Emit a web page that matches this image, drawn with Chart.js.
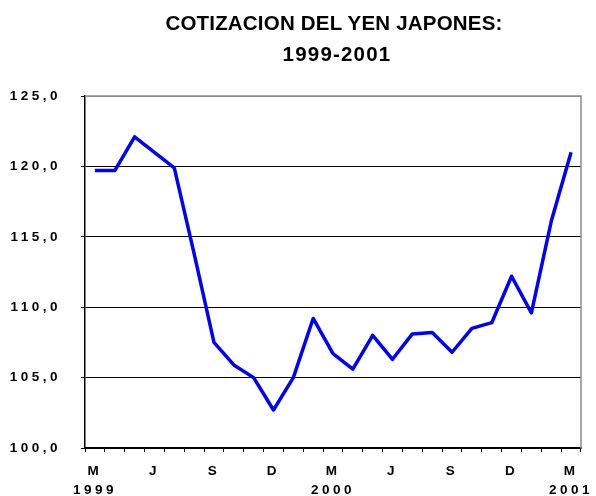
<!DOCTYPE html>
<html>
<head>
<meta charset="utf-8">
<title>Cotización del yen japonés 1999-2001</title>
<script src="https://cdn.jsdelivr.net/npm/chart.js"></script>
<style>
    body { margin: 0; background: #fff; }
    #wrap { position: relative; width: 596px; height: 496px; }
    #chart { position: absolute; left: 0; top: 0; }
    .title {
        position: absolute; left: 86px; width: 496px; text-align: center;
        font-family: "Liberation Sans", Arial, sans-serif; font-weight: bold;
        font-size: 20.5px; color: #000; white-space: nowrap;
    }
</style>
</head>
<body>
<div id="wrap">
    <canvas id="chart" width="596" height="496"></canvas>
    <div class="title" style="top:11px;letter-spacing:0.2px;">COTIZACION DEL YEN JAPONES:</div>
    <div class="title" style="top:42px;left:89px;letter-spacing:1.2px;">1999-2001</div>
</div>
<script>
// Monthly initials, March 1999 to March 2001
const months = ['M', 'A', 'M', 'J', 'J', 'A', 'S', 'O', 'N', 'D', 'E', 'F',
                'M', 'A', 'M', 'J', 'J', 'A', 'S', 'O', 'N', 'D', 'E', 'F', 'M'];
// Yen per dollar, monthly
const yenValues = [119.7, 119.7, 122.1, 121.0, 119.9, 113.8, 107.5, 105.9, 105.0, 102.7,
                   105.0, 109.2, 106.7, 105.6, 108.0, 106.3, 108.1, 108.2, 106.8, 108.5,
                   108.9, 112.2, 109.6, 116.1, 121.0];
// Year shown under the March label
const yearIndex = [0, 12, 24];
const yearLabels = ['1999', '2000', '2001'];
const yTicks = { min: 100, max: 125, step: 5 };

// tick text in this chart is drawn with wide tracking
const spacedText = {
    id: 'spacedText',
    beforeLayout(chart) { chart.ctx.letterSpacing = '3.5px'; },
    beforeDraw(chart) { chart.ctx.letterSpacing = '3.5px'; }
};

// grey frame on the top and right edges of the plot
const plotFrame = {
    id: 'plotFrame',
    beforeDatasetsDraw(chart) {
        const { ctx, chartArea: a } = chart;
        ctx.save();
        ctx.strokeStyle = '#8c8c8c';
        ctx.lineWidth = 1.5;
        ctx.beginPath();
        ctx.moveTo(a.left, a.top);
        ctx.lineTo(a.right, a.top);
        ctx.lineTo(a.right, a.bottom);
        ctx.stroke();
        ctx.restore();
    }
};

const tickFont = { family: '"Liberation Sans", Arial, sans-serif', size: 13.5, weight: 'bold', lineHeight: 1.45 };

new Chart(document.getElementById('chart'), {
    type: 'line',
    data: {
        labels: months,
        datasets: [{
            data: yenValues,
            borderColor: '#0000ff',
            borderWidth: 3.5,
            borderJoinStyle: 'round',
            pointRadius: 0,
            tension: 0,
            fill: false
        }]
    },
    options: {
        responsive: false,
        animation: false,
        devicePixelRatio: 1,
        layout: { padding: { top: 96, right: 15, left: 0, bottom: 0 } },
        plugins: { legend: { display: false }, title: { display: false }, tooltip: { enabled: false } },
        scales: {
            x: {
                offset: true,
                afterFit(scale) {
                    scale.height = 48;
                    scale.paddingLeft = 0;
                    scale.paddingRight = 0;
                },
                border: { display: true, color: '#000', width: 1.5 },
                grid: { offset: true, drawOnChartArea: false, drawTicks: true, tickLength: 4, color: '#000' },
                ticks: {
                    autoSkip: false,
                    maxRotation: 0,
                    padding: 9,
                    color: '#000',
                    font: tickFont,
                    callback(value, index) {
                        if (index % 3 !== 0) return '';
                        const y = yearIndex.indexOf(index);
                        return y >= 0 ? [months[index], yearLabels[y]] : months[index];
                    }
                }
            },
            y: {
                min: yTicks.min,
                max: yTicks.max,
                afterFit(scale) {
                    scale.width = 85;
                    scale.paddingTop = 0;
                    scale.paddingBottom = 0;
                },
                border: { display: true, color: '#000', width: 1.5 },
                grid: {
                    color: ctx => (ctx.tick && ctx.tick.value === yTicks.max) ? '#8c8c8c' : '#000',
                    tickColor: '#000',
                    lineWidth: 1,
                    tickLength: 4
                },
                ticks: {
                    stepSize: yTicks.step,
                    padding: 20,
                    color: '#000',
                    font: { family: '"Liberation Sans", Arial, sans-serif', size: 13.5, weight: 'bold' },
                    callback: value => value.toFixed(1).replace('.', ',')
                }
            }
        }
    },
    plugins: [spacedText, plotFrame]
});
</script>
</body>
</html>
